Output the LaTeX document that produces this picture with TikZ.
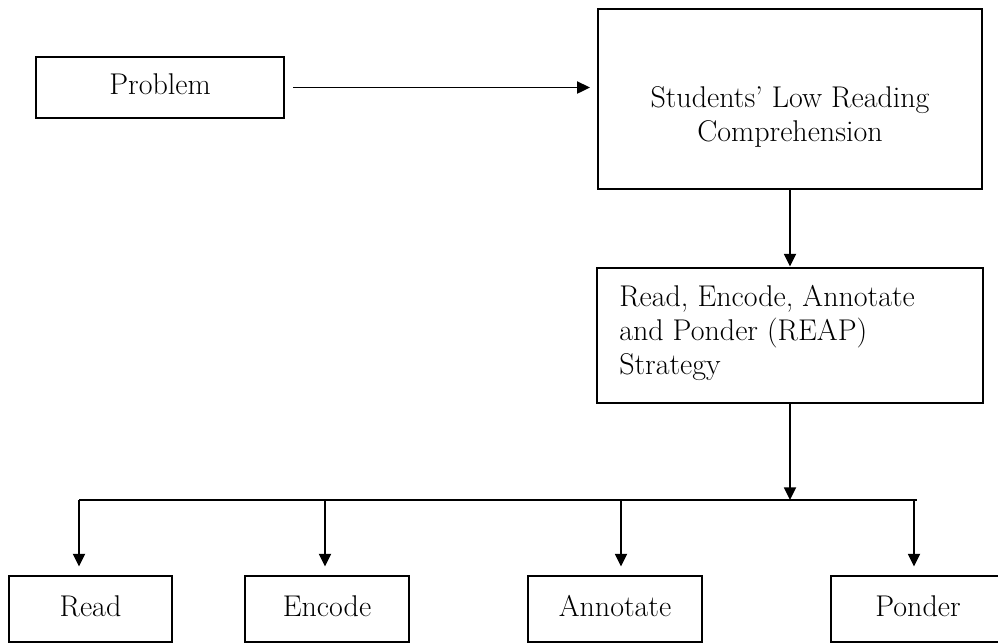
\documentclass[tikz,border=0pt]{standalone}
\usetikzlibrary{arrows.meta}
\begin{document}
\begin{tikzpicture}[x=0.75pt,y=-0.75pt,
  box/.style={draw, line width=2.2pt, inner sep=0pt, font=\fontsize{22.5}{25.5}\selectfont},
  lbox/.style={box, text depth=5pt},
  txt/.style={inner sep=0pt, font=\fontsize{22.5}{25.5}\selectfont},
  conn/.style={line width=1.4pt, -{Triangle[length=9.5pt,width=9pt]}},
  bus/.style={line width=1.4pt}]
\useasboundingbox (0,0) rectangle (998,643);
% top row
\node[lbox, minimum width=248*0.75pt, minimum height=61*0.75pt] (prob) at (160,87.5) {Problem};
\node[box, minimum width=384*0.75pt, minimum height=180*0.75pt] (slrc) at (790,99) {};
\node[txt, align=center] (slrct) at (790,117) {Students' Low Reading\\Comprehension};
% REAP
\node[box, minimum width=386*0.75pt, minimum height=135*0.75pt] (reap) at (790,335.5) {};
\node[txt, align=left, anchor=north west] (reapt) at (619,285) {Read, Encode, Annotate\\and Ponder (REAP)\\Strategy};
% bottom boxes
\node[lbox, minimum width=163*0.75pt, minimum height=66*0.75pt] (read) at (90.5,609) {Read};
\node[lbox, minimum width=164*0.75pt, minimum height=66*0.75pt] (enc) at (327,609) {Encode};
\node[lbox, minimum width=174*0.75pt, minimum height=66*0.75pt] (ann) at (615,609) {Annotate};
\node[lbox, minimum width=174*0.75pt, minimum height=66*0.75pt] (pon) at (918,609) {Ponder};
% bus coordinates
\coordinate (b1) at (79,500);
\coordinate (b2) at (325,500);
\coordinate (b3) at (621,500);
\coordinate (b4) at (914,500);
\coordinate (bend) at (917,500);
\coordinate (bc) at (790,500);
% connectors
\draw[conn, shorten <=6pt, shorten >=5pt] (prob.east) -- (prob.east -| slrc.west);
\draw[conn] (slrc.south) -- (reap.north);
\draw[conn] (reap.south) -- (bc);
\draw[bus] (b1) -- (bend);
\draw[conn, shorten >=6pt] (b1) -- (b1 |- read.north);
\draw[conn, shorten >=6pt] (b2) -- (b2 |- enc.north);
\draw[conn, shorten >=6pt] (b3) -- (b3 |- ann.north);
\draw[conn, shorten >=6pt] (b4) -- (b4 |- pon.north);
\end{tikzpicture}
\end{document}
